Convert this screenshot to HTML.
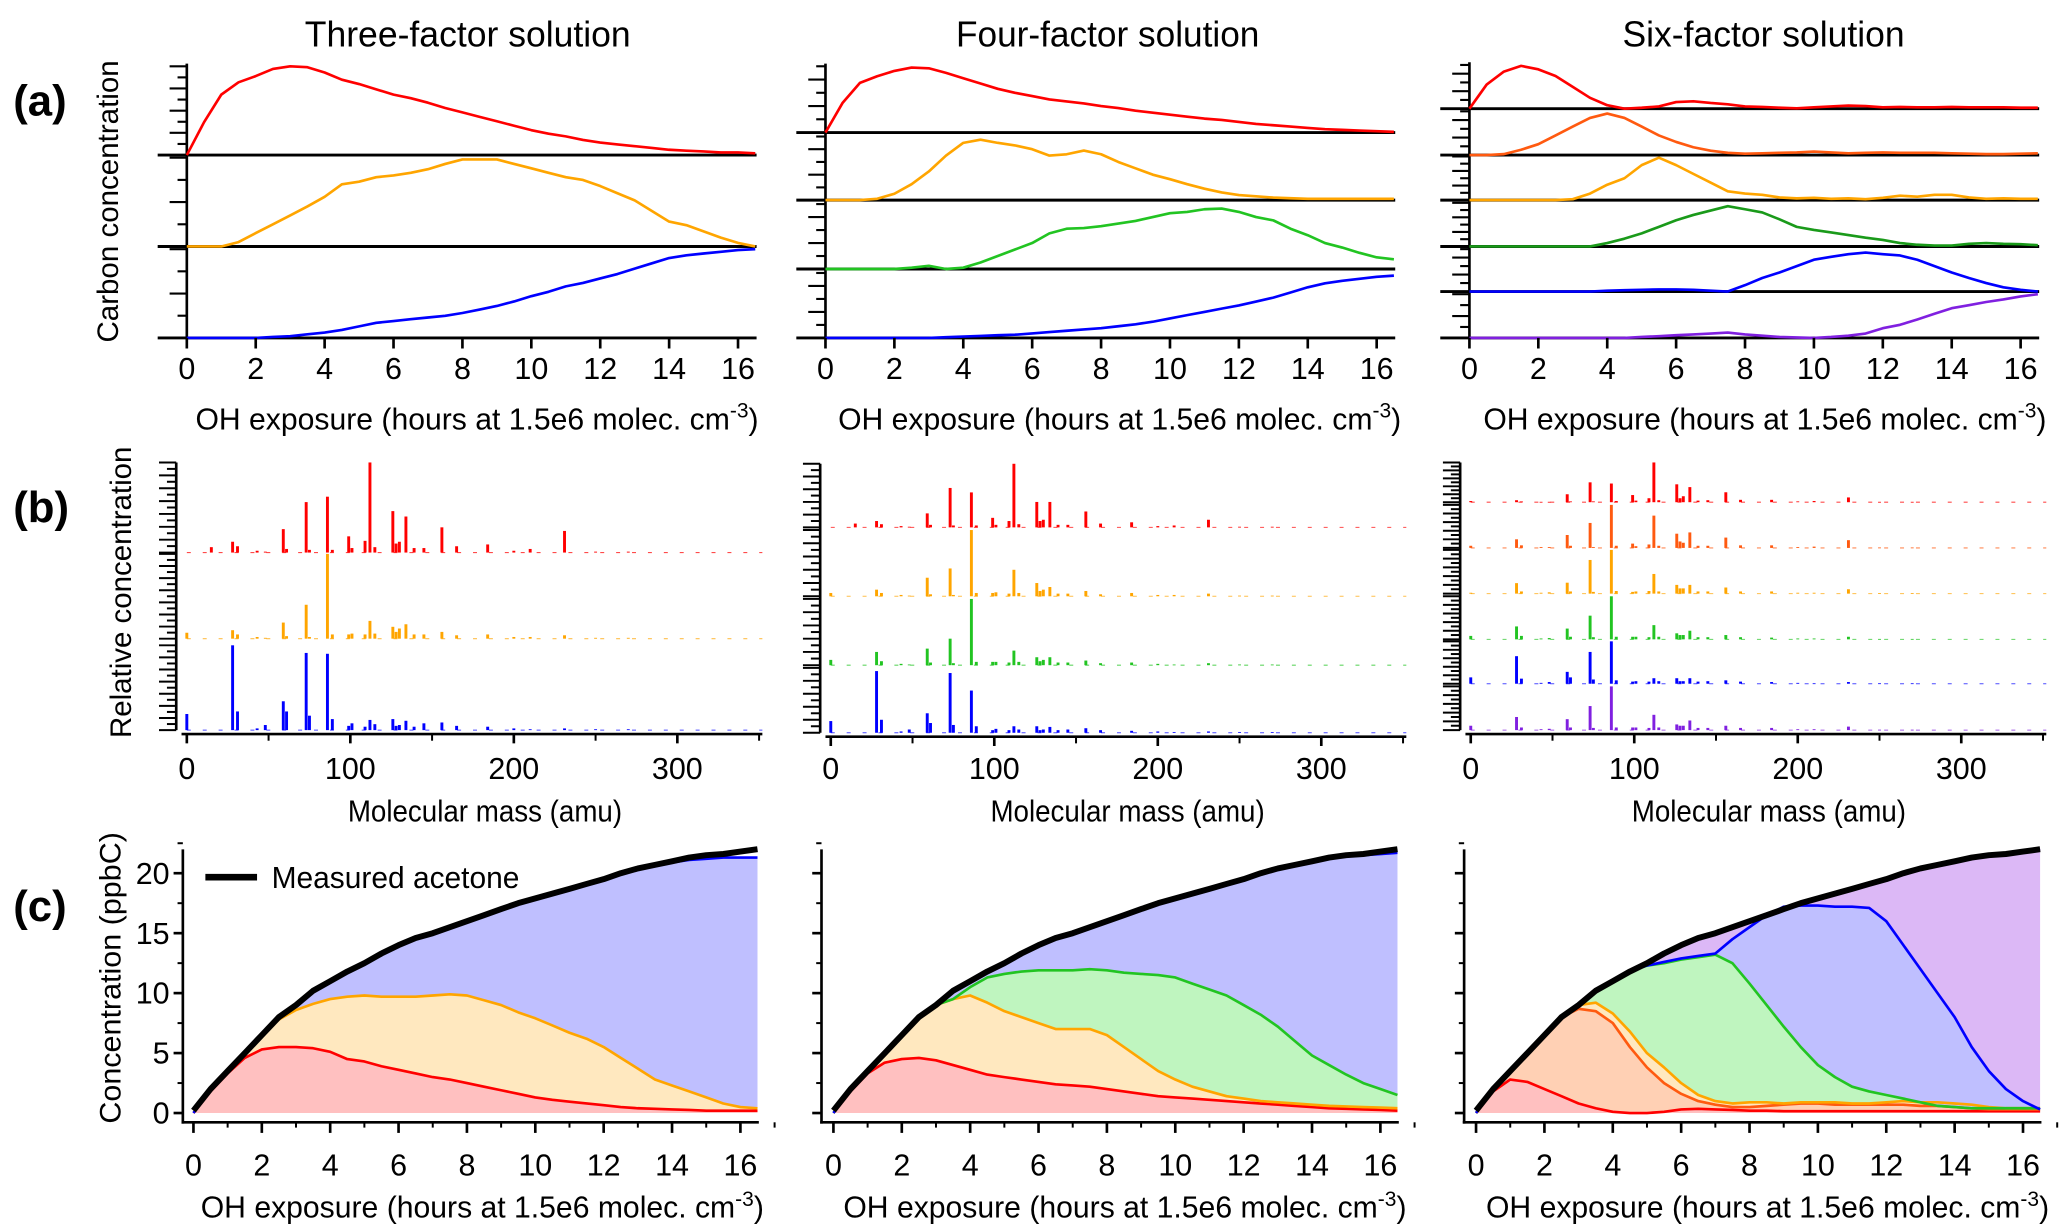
<!DOCTYPE html>
<html><head><meta charset="utf-8"><style>
html,body{margin:0;padding:0;background:#fff}
svg{display:block}
text{font-family:"Liberation Sans",Arial,sans-serif;fill:#000}
</style></head><body>
<svg id="fig" xmlns="http://www.w3.org/2000/svg" width="2067" height="1229" viewBox="0 0 1560 927.5">
<g id="static">
<text x="353" y="35" font-size="27" text-anchor="middle" textLength="246" lengthAdjust="spacingAndGlyphs">Three-factor solution</text>
<text x="836" y="35" font-size="27" text-anchor="middle" textLength="229" lengthAdjust="spacingAndGlyphs">Four-factor solution</text>
<text x="1331" y="35" font-size="27" text-anchor="middle" textLength="213" lengthAdjust="spacingAndGlyphs">Six-factor solution</text>
<text x="10" y="87" font-size="33" font-weight="bold">(a)</text>
<text x="10" y="394" font-size="33" font-weight="bold">(b)</text>
<text x="10" y="695" font-size="33" font-weight="bold">(c)</text>
<text transform="translate(89,152) rotate(-90)" font-size="22" text-anchor="middle" textLength="213" lengthAdjust="spacingAndGlyphs">Carbon concentration</text>
<text transform="translate(99,447) rotate(-90)" font-size="22" text-anchor="middle" textLength="220" lengthAdjust="spacingAndGlyphs">Relative concentration</text>
<text transform="translate(91,738) rotate(-90)" font-size="22" text-anchor="middle" textLength="220" lengthAdjust="spacingAndGlyphs">Concentration (ppbC)</text>
</g>
<g id="plots"></g>
</svg>
<script>
// ===== DATA =====
const hours = [0,0.5,1,1.5,2,2.5,3,3.5,4,4.5,5,5.5,6,6.5,7,7.5,8,8.5,9,9.5,10,10.5,11,11.5,12,12.5,13,13.5,14,14.5,15,15.5,16,16.5];
const hourTicks = [0,2,4,6,8,10,12,14,16];
const massTicks = [0,100,200,300];
const concTicks = [0,5,10,15,20];

// Row (a) factor time series (normalized to sub-panel height)
const a3Red = [0,.37,.68,.82,.89,.97,1.0,.99,.93,.85,.80,.74,.68,.64,.59,.53,.48,.43,.38,.33,.28,.24,.21,.17,.14,.12,.10,.08,.06,.05,.04,.03,.03,.02];
const a3Orange = [0,0,0,.05,.15,.25,.35,.45,.56,.70,.73,.78,.80,.83,.87,.93,.98,.98,.98,.93,.88,.83,.78,.75,.68,.60,.52,.40,.28,.24,.17,.10,.04,0];
const a3Blue = [0,0,0,0,0,.01,.02,.04,.06,.09,.13,.17,.19,.21,.23,.25,.28,.32,.36,.41,.47,.52,.58,.62,.67,.72,.78,.84,.90,.93,.95,.97,.99,1.0];
const a4Red = [0,.45,.75,.85,.93,.98,.97,.90,.82,.74,.66,.60,.55,.50,.47,.44,.40,.37,.33,.30,.27,.24,.21,.19,.16,.13,.11,.09,.07,.05,.04,.03,.02,.01];
const a4Orange = [0,0,0,.02,.10,.25,.45,.70,.90,.95,.90,.86,.80,.70,.72,.78,.72,.60,.50,.40,.33,.25,.18,.12,.08,.06,.04,.03,.02,.02,.02,.02,.02,.02];
const a4Green = [0,0,0,0,0,.02,.05,0,.02,.10,.20,.30,.40,.55,.62,.63,.66,.70,.74,.80,.86,.88,.92,.93,.88,.80,.75,.62,.52,.40,.33,.25,.18,.15];
const a4Blue = [0,0,0,0,0,0,0,.01,.02,.03,.04,.05,.07,.09,.11,.13,.15,.18,.21,.25,.30,.35,.40,.45,.50,.56,.62,.70,.78,.84,.88,.91,.94,.96];
const a6Red = [0,.55,.85,.98,.90,.75,.50,.25,.08,0,.02,.05,.15,.17,.13,.10,.05,.04,.02,.01,.03,.05,.07,.06,.03,.04,.03,.03,.04,.03,.03,.03,.02,.02];
const a6OrangeRed = [0,0,.02,.12,.25,.45,.65,.85,.95,.85,.65,.45,.30,.18,.10,.05,.03,.04,.05,.06,.08,.06,.04,.05,.06,.05,.05,.05,.04,.03,.02,.02,.03,.04];
const a6Orange = [0,0,0,0,0,0,.02,.15,.35,.50,.80,.97,.80,.60,.40,.20,.15,.12,.06,.04,.05,.03,.04,.02,.05,.10,.08,.12,.12,.06,.03,.04,.03,.03];
const a6Green = [0,0,0,0,0,0,0,0,.08,.18,.30,.45,.60,.72,.82,.92,.85,.78,.62,.45,.38,.32,.26,.20,.15,.08,.04,.02,.02,.06,.08,.06,.05,.03];
const a6Blue = [0,0,0,0,0,0,0,0,.02,.03,.04,.05,.05,.04,.02,0,.15,.32,.45,.60,.75,.82,.88,.92,.88,.85,.75,.60,.45,.32,.20,.10,.04,0];
const a6Purple = [0,0,0,0,0,0,0,0,0,0,.02,.04,.06,.08,.10,.12,.08,.05,.02,.01,0,.02,.05,.10,.22,.30,.42,.55,.68,.75,.82,.88,.95,1.0];

// Row (b) mass spectra: masses and relative peak heights
const masses = [0,15,28,31,43,48,59,61,73,75,86,89,99,101,109,112,115,126,128,130,134,139,145,156,165,184,200,210,231,250,270];
const b3Red = [0,.06,.12,.07,.02,.01,.26,.04,.56,.03,.62,.03,.18,.05,.13,1.0,.06,.46,.10,.12,.40,.05,.05,.28,.07,.09,.02,.04,.24,.01,.01];
const b3Orange = [.07,0,.10,.05,.02,.01,.19,.03,.40,.02,1.0,.05,.05,.06,.05,.21,.06,.14,.08,.12,.17,.05,.05,.08,.04,.05,.02,.02,.04,.01,.01];
const b3Blue = [.19,0,1.0,.22,.02,.06,.34,.22,.91,.17,.90,.13,.05,.08,.04,.12,.07,.13,.05,.06,.11,.04,.08,.09,.05,.04,.02,.01,.02,.01,.01];
const b4Red = [0,.06,.10,.05,.02,.01,.22,.04,.62,.03,.55,.03,.15,.04,.10,1.0,.05,.40,.10,.12,.40,.04,.04,.25,.06,.08,.02,.03,.12,.01,.01];
const b4Orange = [.05,0,.10,.05,.02,.01,.28,.03,.42,.02,1.0,.05,.05,.06,.04,.40,.05,.20,.08,.10,.14,.04,.04,.08,.03,.05,.02,.02,.04,.01,.01];
const b4Green = [.08,0,.20,.06,.02,.01,.25,.04,.40,.03,1.0,.05,.05,.05,.04,.22,.05,.12,.06,.08,.12,.04,.04,.07,.03,.04,.02,.01,.03,.01,.01];
const b4Blue = [.18,0,.95,.20,.02,.05,.30,.15,.92,.12,.65,.10,.04,.06,.04,.10,.05,.10,.04,.05,.09,.04,.05,.07,.04,.03,.02,.01,.02,.01,.01];
const b6Red = [.03,0,.05,.02,.01,.01,.20,.02,.50,.02,.47,.03,.18,.04,.10,1.0,.05,.45,.10,.15,.38,.04,.05,.25,.06,.06,.02,.03,.12,.01,.01];
const b6OrangeRed = [.05,0,.20,.06,.02,.02,.30,.05,.58,.02,1.0,.05,.10,.04,.08,.75,.05,.33,.15,.12,.36,.05,.05,.24,.06,.06,.02,.03,.18,.01,.01];
const b6Orange = [.02,0,.24,.05,.02,.03,.25,.05,.77,.04,1.0,.06,.04,.05,.06,.45,.05,.20,.12,.12,.20,.05,.05,.14,.05,.05,.02,.02,.10,.01,.01];
const b6Green = [.08,0,.30,.08,.02,.03,.25,.06,.55,.05,1.0,.06,.06,.06,.05,.33,.06,.14,.10,.10,.20,.05,.05,.10,.05,.04,.02,.02,.06,.01,.01];
const b6Blue = [.15,0,.65,.12,.02,.04,.28,.15,.75,.10,1.0,.08,.05,.06,.05,.13,.06,.13,.06,.06,.13,.05,.06,.08,.05,.04,.02,.01,.04,.01,.01];
const b6Purple = [.10,0,.30,.06,.02,.03,.25,.06,.55,.05,1.0,.06,.06,.06,.05,.35,.06,.13,.10,.10,.22,.05,.05,.10,.05,.05,.02,.02,.08,.01,.01];

// Row (c) stacked contributions (cumulative tops, ppbC) and measured acetone
const measured = [0.2,2,3.5,5,6.5,8,9,10.2,11,11.8,12.5,13.3,14,14.6,15,15.5,16,16.5,17,17.5,17.9,18.3,18.7,19.1,19.5,20,20.4,20.7,21,21.3,21.5,21.6,21.8,22];
const c3RedTop = [0,1.8,3.3,4.6,5.3,5.5,5.5,5.4,5.1,4.5,4.3,3.9,3.6,3.3,3.0,2.8,2.5,2.2,1.9,1.6,1.3,1.1,.95,.8,.65,.5,.4,.35,.3,.25,.2,.2,.2,.2];
const c3OrangeTop = [0,2,3.5,5,6.5,7.8,8.6,9.1,9.5,9.7,9.8,9.7,9.7,9.7,9.8,9.9,9.8,9.4,9.0,8.4,7.9,7.3,6.7,6.2,5.5,4.6,3.7,2.8,2.3,1.8,1.3,.8,.5,.4];
const c3BlueTop = [0,2,3.5,5,6.5,8,9,10.2,11,11.8,12.5,13.3,14,14.6,15,15.5,16,16.5,17,17.5,18,18.4,18.8,19.1,19.5,20,20.4,20.7,20.9,21.1,21.2,21.3,21.3,21.3];
const c4RedTop = [0,1.8,3.3,4.2,4.5,4.6,4.4,4.0,3.6,3.2,3.0,2.8,2.6,2.4,2.3,2.2,2.0,1.8,1.6,1.4,1.3,1.2,1.1,1.0,.9,.8,.7,.6,.5,.4,.35,.3,.25,.2];
const c4OrangeTop = [0,2,3.5,5,6.5,8,9,9.5,9.8,9.2,8.5,8.0,7.5,7.0,7.0,7.0,6.5,5.5,4.5,3.5,2.8,2.2,1.8,1.4,1.2,1.0,.9,.8,.7,.6,.55,.5,.45,.4];
const c4GreenTop = [0,2,3.5,5,6.5,8,9,9.5,10.5,11.3,11.6,11.8,11.9,11.9,11.9,12,11.9,11.7,11.6,11.5,11.3,10.8,10.3,9.8,9.0,8.2,7.2,6.0,4.8,4.0,3.2,2.5,2.0,1.5];
const c4BlueTop = [0,2,3.5,5,6.5,8,9,10.2,11,11.8,12.5,13.3,14,14.6,15,15.5,16,16.5,17,17.5,17.9,18.3,18.7,19.1,19.5,20,20.4,20.7,21,21.2,21.4,21.5,21.6,21.7];
const c6RedTop = [0,1.8,2.8,2.6,2.0,1.4,.8,.4,.1,0,0,.1,.3,.35,.3,.25,.2,.2,.15,.15,.15,.15,.15,.15,.15,.15,.15,.15,.15,.15,.15,.15,.15,.15];
const c6OrangeRedTop = [0,2,3.5,5,6.5,8,8.7,8.5,7.5,5.5,3.8,2.5,1.6,1.0,.7,.5,.5,.6,.7,.8,.8,.7,.7,.7,.7,.7,.6,.6,.5,.4,.3,.3,.3,.3];
const c6OrangeTop = [0,2,3.5,5,6.5,8,9,9.2,8.3,6.8,5.0,3.8,2.5,1.5,1.0,.8,.9,.9,.8,.9,.9,.9,.8,.8,.9,1.0,.9,.9,.8,.7,.5,.4,.4,.4];
const c6GreenTop = [0,2,3.5,5,6.5,8,9,10.1,11.0,11.8,12.3,12.5,12.8,13.0,13.2,12.5,10.8,9.0,7.2,5.5,4.0,3.0,2.2,1.8,1.5,1.2,.9,.6,.5,.4,.4,.4,.4,.4];
const c6BlueTop = [0,2,3.5,5,6.5,8,9,10.2,11,11.8,12.3,12.6,12.9,13.1,13.3,14.5,15.5,16.5,17.2,17.3,17.3,17.2,17.2,17.1,16,14.0,12.0,10.0,8.0,5.5,3.5,2.0,1.0,.3];
const c6PurpleTop = [0.2,2,3.5,5,6.5,8,9,10.2,11,11.8,12.5,13.3,14,14.6,15,15.5,16,16.5,17,17.5,17.9,18.3,18.7,19.1,19.5,20,20.4,20.7,21,21.3,21.5,21.6,21.8,22];

// ===== DRAWING =====
const NS = 'http://www.w3.org/2000/svg';
const root = document.getElementById('plots');
function mk(tag, attrs, parent){
  const e = document.createElementNS(NS, tag);
  for (const k in attrs) e.setAttribute(k, attrs[k]);
  (parent||root).appendChild(e);
  return e;
}
const RED='#ff0000', ORG='#ffa500', BLU='#0000ff', GRN='#22c422', DGRN='#1a9a1a', PUR='#8020e0', ORR='#ff5a10';
const xTitle = 'OH exposure (hours at 1.5e6 molec. cm';
const TICKFS = 23;

function tickLabel(g, x, y, v, anchor){
  const t=mk('text',{x:x,y:y,'font-size':TICKFS,'text-anchor':anchor||'middle'},g);
  
  
  t.textContent=v;
  return t;
}
function ohTitle(g, cx, y){
  const t = mk('text',{x:cx,y:y,'font-size':23,'text-anchor':'middle',textLength:425,lengthAdjust:'spacingAndGlyphs'},g);
  
  
  t.textContent = xTitle;
  const s = mk('tspan',{dy:-9,'font-size':16},t);
  s.textContent='-3';
  const s2 = mk('tspan',{dy:9},t);
  s2.textContent=')';
}

// Row (a)
const rowA = [
  {x0:141, cx:360, base:[117,186,255], top:[50,119,188], ticks:[8,4,4], series:[a3Red,a3Orange,a3Blue], colors:[RED,ORG,BLU]},
  {x0:623, cx:845, base:[100,151,203,255], top:[50,103,154,206], ticks:[5,5,5,5], series:[a4Red,a4Orange,a4Green,a4Blue], colors:[RED,ORG,GRN,BLU]},
  {x0:1109, cx:1332, base:[82,117,151,186,220,255], top:[49,84,118,153,188,222], ticks:[5,5,6,6,5,4], series:[a6Red,a6OrangeRed,a6Orange,a6Green,a6Blue,a6Purple], colors:[RED,ORR,ORG,DGRN,BLU,PUR]}
];
rowA.forEach((c,ci)=>{
  const g = mk('g',{});
  
  
  const xs = h => c.x0 + h*26;
  const xEnd = xs(16.5)+1;
  mk('line',{x1:c.x0,x2:c.x0,y1:c.top[0]-2,y2:c.base[c.base.length-1],stroke:'#000','stroke-width':2},g);
  c.base.forEach((b,i)=>{
    const bl = mk('line',{x1:c.x0-22,x2:xEnd,y1:b,y2:b,stroke:'#000','stroke-width':2.2},g);
    
    
    const n=c.ticks[i], hgt=(b-c.top[i]);
    for(let k=1;k<=n;k++){
      const y=b-hgt*k/n;
      mk('line',{x1:c.x0-(k%2==0?13:7),x2:c.x0,y1:y,y2:y,stroke:'#000','stroke-width':1.6},g);
    }
    const vals=c.series[i];
    const d = vals.map((v,j)=>(j?'L':'M')+xs(hours[j]).toFixed(1)+','+(b-v*hgt).toFixed(1)).join('');
    const p = mk('path',{d:d,fill:'none',stroke:c.colors[i],'stroke-width':2,'stroke-linejoin':'round'},g);
    
    
  });
  const yb=c.base[c.base.length-1];
  hourTicks.forEach(v=>{
    const tk=mk('line',{x1:xs(v),x2:xs(v),y1:yb,y2:yb+8,stroke:'#000','stroke-width':2},g);
    
    
    tickLabel(g, xs(v), 286, v);
  });
  ohTitle(g, c.cx, 324);
});

// Row (b)
const rowB = [
  {x0:141, cx:366, base:[417,482,551], top:[349,418,487], ticks:[14,14,14], series:[b3Red,b3Orange,b3Blue], colors:[RED,ORG,BLU]},
  {x0:627, cx:851, base:[398,450,502,553], top:[350,400,452,504], ticks:[10,10,10,10], series:[b4Red,b4Orange,b4Green,b4Blue], colors:[RED,ORG,GRN,BLU]},
  {x0:1110, cx:1335, base:[379,413.5,448,482.5,516,551], top:[349,381,415,450,484,518], ticks:[10,10,10,10,10,10], series:[b6Red,b6OrangeRed,b6Orange,b6Green,b6Blue,b6Purple], colors:[RED,ORR,ORG,GRN,BLU,PUR]}
];
rowB.forEach((c,ci)=>{
  const g = mk('g',{});
  
  
  const xs = m => c.x0 + m*1.234;
  const ax = c.x0-8;
  mk('line',{x1:ax,x2:ax,y1:c.top[0],y2:c.base[c.base.length-1],stroke:'#000','stroke-width':2},g);
  const yAx = c.base[c.base.length-1]+3;
  mk('line',{x1:c.x0-4,x2:xs(352),y1:yAx,y2:yAx,stroke:'#000','stroke-width':2},g);
  c.base.forEach((b,i)=>{
    const n=c.ticks[i], hgt=b-c.top[i];
    for(let k=0;k<=n;k++){
      const y=b-hgt*k/n;
      mk('line',{x1:ax-(k%2==0?13:7),x2:ax,y1:y,y2:y,stroke:'#000','stroke-width':1.5},g);
    }
    mk('line',{x1:xs(0),x2:xs(352),y1:b,y2:b,stroke:c.colors[i],'stroke-width':0.8,'stroke-dasharray':'3 9',opacity:0.7},g);
    c.series[i].forEach((v,j)=>{
      if(v<=0) return;
      const r = mk('rect',{x:xs(masses[j])-1.1,y:b-v*hgt,width:2.2,height:Math.max(v*hgt,0.6),fill:c.colors[i]},g);
      
      
    });
  });
  massTicks.forEach(v=>{
    const tk=mk('line',{x1:xs(v),x2:xs(v),y1:yAx,y2:yAx+7,stroke:'#000','stroke-width':2},g);
    
    
    tickLabel(g, xs(v), 588, v);
  });
  [50,150,250,350].forEach(v=>mk('line',{x1:xs(v),x2:xs(v),y1:yAx,y2:yAx+5,stroke:'#000','stroke-width':1.5},g));
  const tt=mk('text',{x:c.cx,y:620,'font-size':23,'text-anchor':'middle',textLength:207,lengthAdjust:'spacingAndGlyphs'},g);
  
  
  tt.textContent='Molecular mass (amu)';
});

// Row (c)
const rowC = [
  {ax:138, x0:146, cx:364, tops:[c3RedTop,c3OrangeTop,c3BlueTop], fills:['#ffc0c0','#ffe8bf','#bfbfff'], lines:[RED,ORG,BLU], labels:true},
  {ax:620, x0:629, cx:849, tops:[c4RedTop,c4OrangeTop,c4GreenTop,c4BlueTop], fills:['#ffc0c0','#ffe8bf','#bff5bf','#bfbfff'], lines:[RED,ORG,GRN,BLU], labels:false},
  {ax:1105, x0:1114, cx:1334, tops:[c6RedTop,c6OrangeRedTop,c6OrangeTop,c6GreenTop,c6BlueTop,c6PurpleTop], fills:['#ffc0c0','#ffd0b4','#ffe8bf','#bff5bf','#bfbfff','#dcb8f6'], lines:[RED,ORR,ORG,GRN,BLU,PUR], labels:false}
];
rowC.forEach((c,ci)=>{
  const g = mk('g',{});
  
  
  const xs = h => c.x0 + h*25.8;
  const ys = v => 840 - v*9.05;
  c.tops.forEach((top,i)=>{
    const prev = i? c.tops[i-1] : hours.map(()=>0);
    let d = top.map((v,j)=>(j?'L':'M')+xs(hours[j]).toFixed(1)+','+ys(v).toFixed(1)).join('');
    for(let j=hours.length-1;j>=0;j--) d+='L'+xs(hours[j]).toFixed(1)+','+ys(prev[j]).toFixed(1);
    const a=mk('path',{d:d+'Z',fill:c.fills[i],stroke:'none'},g);
    
    
  });
  c.tops.forEach((top,i)=>{
    const d = top.map((v,j)=>(j?'L':'M')+xs(hours[j]).toFixed(1)+','+ys(v).toFixed(1)).join('');
    const l=mk('path',{d:d,fill:'none',stroke:c.lines[i],'stroke-width':2,'stroke-linejoin':'round'},g);
    
    
  });
  const md = measured.map((v,j)=>(j?'L':'M')+xs(hours[j]).toFixed(1)+','+ys(v).toFixed(1)).join('');
  const ml=mk('path',{d:md,fill:'none',stroke:'#000','stroke-width':4.5,'stroke-linejoin':'round'},g);
  
  
  mk('line',{x1:c.ax,x2:c.ax,y1:641,y2:848,stroke:'#000','stroke-width':2},g);
  mk('line',{x1:c.ax-1,x2:xs(16.5)+1,y1:847,y2:847,stroke:'#000','stroke-width':2},g);
  concTicks.forEach(v=>{
    mk('line',{x1:c.ax-7,x2:c.ax,y1:ys(v),y2:ys(v),stroke:'#000','stroke-width':2},g);
    mk('line',{x1:c.ax-4,x2:c.ax,y1:ys(v+2.5),y2:ys(v+2.5),stroke:'#000','stroke-width':1.5},g);
    if(c.labels) tickLabel(g, c.ax-10, ys(v)+8, v, 'end');
  });
  hourTicks.forEach(v=>{
    mk('line',{x1:xs(v),x2:xs(v),y1:847,y2:855,stroke:'#000','stroke-width':2},g);
    mk('line',{x1:xs(v+1),x2:xs(v+1),y1:847,y2:851,stroke:'#000','stroke-width':1.5},g);
    tickLabel(g, xs(v), 887, v);
  });
  ohTitle(g, c.cx, 919);
  if(ci===0){
    const lg=mk('g',{},g);
    
    
    mk('line',{x1:155,x2:194,y1:662,y2:662,stroke:'#000','stroke-width':5},lg);
    const t=mk('text',{x:205,y:670,'font-size':23,textLength:187,lengthAdjust:'spacingAndGlyphs'},lg);
    t.textContent='Measured acetone';
  }
});
</script>
</body></html>
